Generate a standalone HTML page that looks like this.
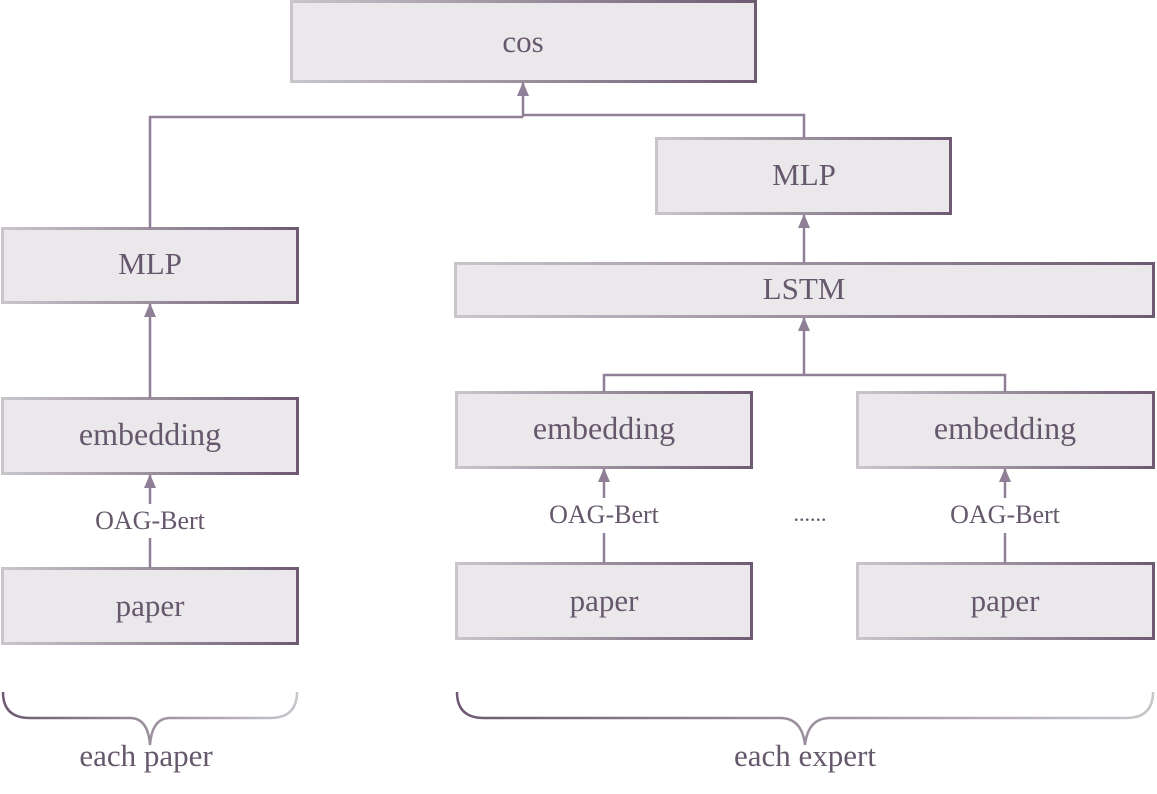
<!DOCTYPE html>
<html><head><meta charset="utf-8"><style>
html,body{margin:0;padding:0;background:#fff;}
svg text{font-family:"Liberation Serif",serif;fill:#66586c;text-anchor:middle;}
</style></head><body>
<svg width="1157" height="789" viewBox="0 0 1157 789" xmlns="http://www.w3.org/2000/svg">
<defs>
<linearGradient id="g" x1="0" y1="0" x2="1" y2="0">
<stop offset="0" stop-color="#c9c5cb"/><stop offset="1" stop-color="#6e5a72"/>
</linearGradient>
<linearGradient id="bl" x1="0" y1="0" x2="1" y2="0">
<stop offset="0" stop-color="#6e5a72"/><stop offset="1" stop-color="#c9c5cb"/>
</linearGradient>
<marker id="a" markerWidth="14" markerHeight="12" refX="13" refY="6" orient="auto" markerUnits="userSpaceOnUse" viewBox="0 0 14 12">
<path d="M0,0 L14,6 L0,12 Z" fill="#8f8098"/>
</marker>
</defs>
<g fill="#ebe8ec" stroke="url(#g)" stroke-width="3">
<rect x="291.5" y="1.5" width="464" height="80"/>
<rect x="656.5" y="138.5" width="294" height="75"/>
<rect x="2.5" y="228.5" width="295" height="74"/>
<rect x="455.5" y="263.5" width="698" height="53"/>
<rect x="2.5" y="398.5" width="295" height="75"/>
<rect x="456.5" y="392.5" width="295" height="75"/>
<rect x="857.5" y="392.5" width="296" height="75"/>
<rect x="2.5" y="568.5" width="295" height="75"/>
<rect x="456.5" y="563.5" width="295" height="75"/>
<rect x="857.5" y="563.5" width="296" height="75"/>
</g>
<g stroke="#8f8098" stroke-width="2.5" fill="none">
<polyline points="150,228 150,117 523,117"/>
<polyline points="804,138 804,115 523,115"/>
<line x1="523" y1="117" x2="523" y2="83" marker-end="url(#a)"/>
<line x1="150" y1="398" x2="150" y2="304" marker-end="url(#a)"/>
<line x1="150" y1="568" x2="150" y2="538"/>
<line x1="150" y1="504" x2="150" y2="475" marker-end="url(#a)"/>
<line x1="604" y1="563" x2="604" y2="533"/>
<line x1="604" y1="498" x2="604" y2="469" marker-end="url(#a)"/>
<line x1="1005" y1="563" x2="1005" y2="533"/>
<line x1="1005" y1="498" x2="1005" y2="469" marker-end="url(#a)"/>
<line x1="804" y1="263" x2="804" y2="215" marker-end="url(#a)"/>
<polyline points="604,392 604,375 1005,375 1005,392"/>
<line x1="804" y1="375" x2="804" y2="318" marker-end="url(#a)"/>
</g>
<g stroke-width="2.5" fill="none">
<path d="M3,692 Q3,718 30,718 L130,718 Q148,718 150,745 Q152,718 170,718 L270,718 Q297,718 297,692" stroke="url(#bl)"/>
<path d="M457,692 Q457,718 484,718 L780,718 Q802,718 805,745 Q808,718 830,718 L1126,718 Q1153,718 1153,692" stroke="url(#bl)"/>
</g>
<g font-size="31">
<text x="523" y="52">cos</text>
<text x="804" y="185">MLP</text>
<text x="150" y="274">MLP</text>
<text x="804" y="299">LSTM</text>
<text x="150" y="445" font-size="32">embedding</text>
<text x="604" y="439" font-size="32">embedding</text>
<text x="1005" y="439" font-size="32">embedding</text>
<text x="150" y="616">paper</text>
<text x="604" y="611">paper</text>
<text x="1005" y="611">paper</text>
<text x="146" y="766">each paper</text>
<text x="805" y="766">each expert</text>
</g>
<g font-size="26">
<text x="150" y="529">OAG-Bert</text>
<text x="604" y="523">OAG-Bert</text>
<text x="1005" y="523">OAG-Bert</text>
<text x="810" y="521" font-size="22">......</text>
</g>
</svg>
</body></html>
